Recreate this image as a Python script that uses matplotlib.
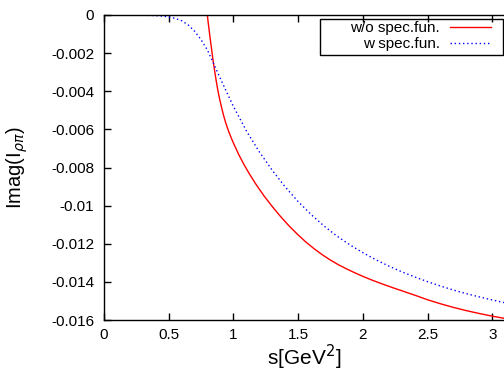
import matplotlib
matplotlib.use("Agg")
import matplotlib.pyplot as plt
from matplotlib.patches import Rectangle

# ---- data ----
s_red = [0.18, 0.798, 0.805, 0.815, 0.825, 0.835, 0.845, 0.855, 0.865, 0.875, 0.885, 0.895,
         0.91, 0.925, 0.94, 0.96, 0.98, 1.0, 1.04, 1.08, 1.12, 1.171, 1.235, 1.30, 1.365, 1.429,
         1.494, 1.558, 1.623, 1.687, 1.75, 1.816, 1.88, 1.946, 2.01, 2.075, 2.17, 2.25,
         2.315, 2.41, 2.5, 2.6, 2.7, 2.8, 2.9, 3.0, 3.1]
im_red = [0.0, 0.0, -0.0004, -0.00095, -0.00148, -0.0020, -0.0025, -0.00295, -0.00338, -0.00378, -0.00414, -0.00446,
          -0.0049, -0.0053, -0.00565, -0.00605, -0.0064, -0.00672, -0.00731, -0.00783, -0.0083, -0.00885, -0.00948, -0.01005, -0.01058, -0.01106,
          -0.0115, -0.0119, -0.01226, -0.01258, -0.01286, -0.01312, -0.01334, -0.01355, -0.01374, -0.01392, -0.01416, -0.01435,
          -0.0145, -0.01472, -0.01494, -0.01515, -0.01534, -0.01551, -0.01566, -0.0158, -0.01592]

s_blue = [0.18, 0.3, 0.4, 0.45, 0.5, 0.55, 0.6, 0.65, 0.7, 0.75, 0.8, 0.85, 0.9, 0.95,
          1.0, 1.1, 1.2, 1.3, 1.4, 1.5, 1.6, 1.7, 1.8, 1.9, 2.0, 2.1, 2.2, 2.3, 2.4,
          2.5, 2.6, 2.7, 2.8, 2.9, 3.0, 3.1]
im_blue = [0.0, -0.00001, -0.00003, -0.00006, -0.0001, -0.00018, -0.0003, -0.00052, -0.00085, -0.0013, -0.00185, -0.0026, -0.00335, -0.00408,
           -0.0048, -0.00608, -0.00718, -0.00815, -0.00902, -0.00979, -0.01047, -0.01107, -0.0116, -0.01206, -0.01247, -0.01284, -0.01317, -0.01347, -0.01374,
           -0.01399, -0.01422, -0.01443, -0.01462, -0.01479, -0.01495, -0.0151]

x_ticks = [0, 0.5, 1, 1.5, 2, 2.5, 3]
x_ticklabels = ["0", "0.5", "1", "1.5", "2", "2.5", "3"]
y_ticks = [0, -0.002, -0.004, -0.006, -0.008, -0.01, -0.012, -0.014, -0.016]
y_ticklabels = ["0", "-0.002", "-0.004", "-0.006", "-0.008", "-0.01", "-0.012", "-0.014", "-0.016"]

label_red = "w/o spec.fun."
label_blue = "w spec.fun."

plt.rcParams['font.family'] = ['Liberation Sans', 'DejaVu Sans']
plt.rcParams['mathtext.fontset'] = 'dejavusans'

W, H = 504, 372
fig = plt.figure(figsize=(W / 100, H / 100), dpi=100)
ax = fig.add_axes([104 / W, 52 / H, 1 - 104 / W, 305 / H])

ax.plot(s_red, im_red, color='#ff0000', lw=1.0, label=label_red)
ax.plot(s_blue, im_blue, color='#0000ff', lw=1.0, ls=(0, (1, 2)), label=label_blue)

ax.set_xlim(0, 3.09)
ax.set_ylim(-0.016, 0)
ax.set_xticks(x_ticks)
ax.set_xticklabels(x_ticklabels)
ax.set_yticks(y_ticks)
ax.set_yticklabels(y_ticklabels)
ax.tick_params(direction='in', length=5, width=1, labelsize=11, top=True, right=False)
ax.tick_params(axis='y', pad=7)
ax.tick_params(axis='x', pad=6)
for sp in ['left', 'bottom', 'top']:
    ax.spines[sp].set_linewidth(1.0)
ax.spines['right'].set_visible(False)

ax.set_xlabel("s[GeV$^2$]", fontsize=15)
ax.set_ylabel(r"Imag(I$_{\rho\pi}$)", fontsize=14.5)
ax.yaxis.set_label_coords(-0.185, 0.5)
ax.xaxis.set_label_coords(0.5, -0.076)

# legend box (gnuplot style: wide frame, right-aligned labels, samples on the right)
fig.patches.append(Rectangle((319.5 / W, (H - 55) / H), 183 / W, 35.5 / H,
                             transform=fig.transFigure, fill=False,
                             edgecolor='black', linewidth=1.0, zorder=5))
leg = ax.legend(loc='upper right', bbox_to_anchor=(491 / W, (H - 21) / H), bbox_transform=fig.transFigure,
                markerfirst=False, fontsize=11, frameon=False,
                handlelength=2.7, handletextpad=0.65, borderpad=0, labelspacing=0.15,
                borderaxespad=0)

fig.savefig("out.png", dpi=100)
